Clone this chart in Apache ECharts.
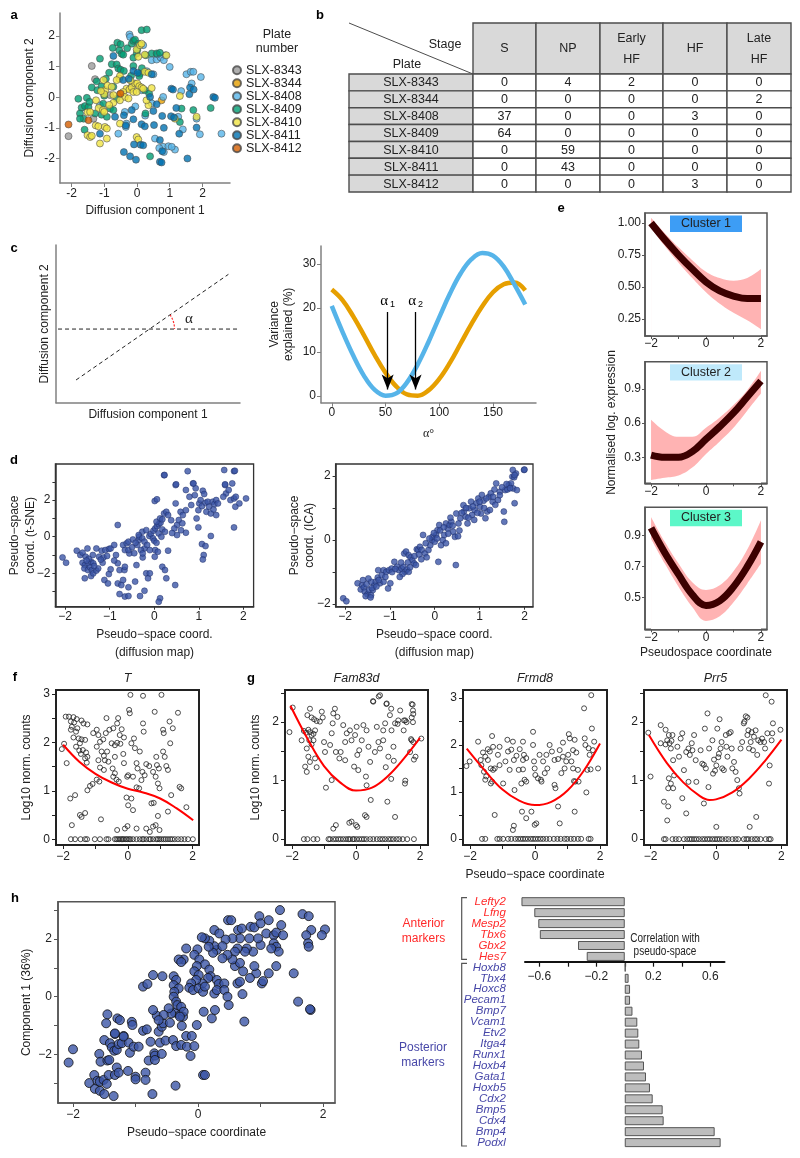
<!DOCTYPE html>
<html><head><meta charset="utf-8">
<script src="https://cdn.jsdelivr.net/npm/echarts@6/dist/echarts.min.js"></script>
<style>html,body{margin:0;padding:0;background:#fff}#c{width:800px;height:1158px}</style>
</head><body><div id="c"></div>
<script>
const FONT = '"Liberation Sans", Arial, Helvetica, sans-serif';
const SERIF = '"Liberation Serif", "Times New Roman", serif';
const minus = v => (v < 0 ? '\u2212' : '') + Math.abs(v);

// ---------------- DATA ----------------
const plateNames = ['SLX-8343','SLX-8344','SLX-8408','SLX-8409','SLX-8410','SLX-8411','SLX-8412'];
const plateColors = ['#9b9b9b','#e69f00','#56b4e9','#009e73','#f0e442','#0072b2','#d55e00'];
const dm8343 = [[-1.38,1.02],[-1.28,0.59],[-2.09,-1.27],[-1.33,-0.70],[-0.82,0.07],[-0.16,0.34]];
const dm8344 = [[-0.52,0.10],[0.75,-0.10]];
const dm8408 = [[-0.23,2.05],[-0.21,1.97],[0.19,1.70],[0.45,1.21],[0.60,1.23],[0.72,1.30],[0.82,1.21],[0.87,1.37],[1.00,0.99],[1.51,0.75],[1.64,0.83],[1.72,0.83],[1.95,0.66],[1.67,0.45],[0.50,0.75],[1.92,-1.21],[2.58,-1.19],[0.14,0.23],[-0.37,-0.48],[-0.32,-0.86],[-0.34,-0.97],[0.80,-1.62],[0.68,-1.66],[0.96,-1.60],[1.16,-1.71],[1.06,-1.62],[0.82,-1.79],[1.82,-0.70],[-0.57,-1.19],[-1.13,-0.26],[0.80,0.01],[0.45,-0.20],[1.26,-0.64],[0.62,1.40],[0.30,0.85],[-0.05,-0.30],[1.35,0.20],[0.55,-1.35],[1.40,-1.05],[0.25,-0.60]];
const dm8409 = [[0.14,2.19],[0.30,2.21],[-0.16,1.75],[-0.11,1.84],[-0.06,1.88],[-0.60,1.78],[-0.50,1.73],[-0.54,1.53],[-0.47,1.42],[-0.42,1.39],[-0.74,1.61],[-0.01,1.43],[0.01,1.54],[0.45,1.43],[0.60,1.43],[0.70,1.45],[0.27,1.37],[-0.11,1.29],[-0.77,1.08],[-0.62,1.07],[-0.57,0.94],[-0.50,0.90],[-1.13,1.26],[-0.85,0.80],[-0.11,1.02],[0.09,0.77],[0.07,0.69],[-1.38,0.32],[-1.21,0.23],[-0.72,0.34],[-1.79,-0.05],[-1.53,-0.02],[-1.69,-0.34],[-1.59,-0.29],[-1.48,-0.32],[-1.74,-0.53],[-1.63,-0.70],[-1.74,-0.70],[-1.60,-1.06],[-1.28,-0.53],[-1.03,-0.21],[-0.82,-0.37],[-1.08,-0.57],[-0.92,-0.64],[-0.72,-0.42],[0.24,0.23],[0.37,0.12],[0.26,-0.53],[0.40,-1.93],[1.31,-0.81],[2.25,-0.35],[1.72,-0.42],[1.36,-0.37],[-1.23,0.52],[-1.08,0.36],[-0.40,0.86],[-0.18,0.70],[-0.30,1.60],[0.05,1.75],[-1.45,-0.15],[-1.00,0.05],[-0.62,-0.05],[0.15,0.95],[-0.95,0.60]];
const dm8410 = [[-1.02,0.56],[-0.97,0.23],[-1.00,0.10],[-0.90,0.38],[-1.17,-0.35],[-1.04,-0.42],[-1.00,-0.48],[-1.51,-0.49],[-1.43,-0.48],[-1.26,-0.92],[-1.18,-0.95],[-0.98,-0.97],[-0.92,-1.02],[-1.51,-1.24],[-1.43,-1.30],[-1.38,-1.26],[-0.92,-1.35],[-1.13,-1.51],[-0.54,0.61],[-0.52,0.69],[-0.32,0.28],[-0.23,0.25],[-0.16,0.32],[-0.11,0.17],[-0.06,0.45],[0.01,0.45],[0.07,0.36],[0.14,0.32],[0.19,0.28],[-0.42,0.17],[-0.37,0.01],[-0.52,-0.10],[-0.72,-0.18],[-0.01,1.56],[0.09,1.70],[0.14,1.75],[0.24,1.39],[0.24,0.83],[0.35,0.80],[-0.01,0.17],[0.35,-0.26],[0.90,1.37],[-0.52,-0.86],[-0.01,-1.30],[0.04,-1.38],[1.31,0.04],[1.82,-0.64],[1.16,-0.70],[0.29,-0.10],[-0.26,-0.04],[-0.77,0.34],[-0.72,0.07],[-0.62,0.56],[0.04,1.32],[-1.10,0.20],[-0.85,-0.25],[-0.20,0.55],[0.45,0.30],[-1.25,-0.10]];
const dm8411 = [[-0.72,1.35],[-0.42,0.56],[-0.11,0.86],[0.02,0.80],[0.45,0.75],[-0.16,-0.42],[-0.40,-0.59],[-0.34,-0.92],[-0.11,-0.72],[0.14,-0.88],[0.24,-0.95],[0.52,-0.91],[0.60,-0.23],[0.77,-0.61],[0.82,-1.00],[1.04,-0.62],[1.13,-0.66],[1.05,0.28],[1.10,0.25],[1.60,0.10],[1.62,0.32],[1.73,0.25],[2.33,0.01],[2.38,-0.02],[1.82,-0.99],[1.29,-1.19],[1.54,-2.00],[0.70,-1.40],[0.77,-1.76],[0.70,-2.11],[0.75,-2.13],[-0.21,-1.93],[-0.03,-2.04],[-0.40,-1.79],[-0.09,-1.54],[0.11,-1.55],[0.19,-1.57],[-1.13,-1.19],[-0.67,-0.64],[0.40,0.01],[0.50,-0.45],[-0.25,0.60],[1.20,-0.35]];
const dm8412 = [[-2.09,-0.89],[-1.48,-0.75],[-0.50,0.12]];
const plateData = [dm8343, dm8344, dm8408, dm8409, dm8410, dm8411, dm8412];

const stageNames = ['S','NP','Early\nHF','HF','Late\nHF'];
const tableCounts = [[0,4,2,0,0],[0,0,0,0,2],[37,0,0,3,0],[64,0,0,0,0],[0,59,0,0,0],[0,43,0,0,0],[0,0,0,3,0]];

const alphaDeg = [0,10,20,30,40,50,60,70,80,90,100,110,120,130,140,150,160,170,180];
const varBlue = [20.5,14.6,9.2,4.6,1.4,0.1,0.6,3.1,7.2,12.3,17.9,23.3,27.9,31.1,32.5,31.9,29.4,25.3,20.8];
const varOrange = [24.2,21.8,18.1,13.8,9.3,5.3,2.2,0.4,0.1,1.3,3.9,7.6,12.0,16.4,20.4,23.6,25.4,25.8,24.0];
const alphaMarks = [52, 78];
const cDiag = [[0.109,0.144],[0.937,0.814]];
const cHoriz = [[0.011,0.467],[1.0,0.467]];

const dLeft = [[-2.06,-1.13],[-1.98,-1.42],[-1.74,-0.76],[-1.66,-1.0],[-1.61,-0.87],[-1.54,-1.09],[-1.5,-0.64],[-1.61,-1.42],[-1.56,-1.55],[-1.48,-1.45],[-1.42,-1.36],[-1.37,-1.45],[-1.57,-1.73],[-1.49,-1.82],[-1.44,-1.67],[-1.4,-1.82],[-1.56,-2.27],[-1.42,-2.15],[-1.37,-2.0],[-1.3,-1.85],[-1.26,-1.73],[-1.38,-1.0],[-1.3,-0.64],[-1.24,-1.09],[-1.18,-0.76],[-1.1,-0.73],[-1.02,-0.67],[-0.98,-0.64],[-1.14,-1.13],[-1.06,-1.05],[-1.12,-2.36],[-1.04,-2.55],[-1.02,-2.04],[-0.98,-1.78],[-1.16,-1.42],[-0.9,-0.45],[-0.82,0.64],[-0.86,-1.0],[-0.82,-1.45],[-0.78,-1.82],[-0.82,-2.55],[-0.74,-2.64],[-0.7,-2.36],[-0.67,-1.82],[-0.78,-3.13],[-0.66,-3.27],[-0.58,-3.24],[-0.7,-0.45],[-0.66,-0.73],[-0.62,-0.36],[-0.56,-0.91],[-0.66,-1.64],[-0.58,-2.76],[-0.58,-0.73],[-0.5,-0.58],[-0.4,-1.55],[-0.43,-2.45],[-0.32,-3.24],[-0.26,-1.13],[-0.22,-0.64],[-0.22,-2.95],[-0.18,-2.0],[-0.35,-0.18],[-0.34,0],[-0.27,0.27],[-0.38,-0.45],[-0.3,-0.73],[-0.26,-0.91],[-0.14,-2.27],[-0.1,-2.0],[-0.11,0.04],[-0.08,0.15],[-0.03,-0.09],[0,-0.22],[0.05,-0.33],[0.02,-0.73],[0.08,-0.82],[-0.02,0.33],[0.02,0.45],[0.06,0.58],[0.1,0.69],[0.14,0.76],[0.05,0.82],[0.13,1.0],[0.18,0.95],[0.01,1.95],[0.06,2.04],[0.22,1.27],[0.27,1.36],[0.31,1.18],[0.1,0.18],[0.16,0],[0.18,0.4],[0.24,0.27],[0.22,3.36],[0.18,-1.64],[0.24,-1.82],[0.27,-2.27],[0.31,-0.76],[0.13,-3.36],[0.1,-3.55],[0.47,-2.64],[0.48,1.82],[0.48,2.82],[0.51,0.64],[0.51,0.09],[0.55,0.91],[0.59,1.36],[0.63,0.73],[0.64,1.18],[0.71,0.22],[0.71,1.45],[0.75,3.58],[0.71,2.55],[0.79,2.18],[0.83,1.73],[0.87,2.91],[0.91,2.27],[0.93,2.64],[0.95,1.0],[0.99,1.45],[0.99,0.51],[1.01,1.82],[1.04,2.0],[1.07,1.67],[1.09,2.51],[1.12,2.33],[1.15,1.85],[1.17,1.36],[1.2,1.91],[1.23,1.64],[1.27,1.27],[1.31,1.91],[1.33,1.49],[1.35,1.78],[1.39,2.0],[1.43,1.82],[1.39,1.18],[1.07,-0.4],[1.15,-0.51],[1.11,-1.0],[1.09,-1.24],[1.27,0.04],[1.57,3.64],[1.59,2.82],[1.61,2.36],[1.67,2.55],[1.71,2.0],[1.75,2.91],[1.79,3.58],[1.79,2.09],[1.82,1.64],[1.83,2.18],[1.91,1.82],[2.06,2.09],[1.79,0.51],[1.55,2.18],[-0.58,-0.27],[-0.48,-0.15],[-0.42,-0.33],[-0.35,0.09],[-0.27,-0.09],[-0.22,-0.27],[-0.18,0.36],[-0.16,-0.45],[-0.1,-0.73],[0.01,-1.09],[0.23,3.37],[0.49,2.86],[0.88,2.91],[1.59,2.86],[1.81,3.6],[0.45,0.45],[0.38,0.9],[0.6,0.35],[0.4,0.2],[-0.45,-0.9],[-0.9,-1.3],[-1.2,-1.25],[-1.47,-1.2],[-1.52,-1.3],[-1.35,-1.6]];
const dRight = [[-2.04,-1.82],[-1.97,-1.91],[-1.72,-1.35],[-1.62,-1.41],[-1.65,-1.54],[-1.58,-1.48],[-1.56,-1.61],[-1.5,-1.69],[-1.54,-1.75],[-1.46,-1.56],[-1.42,-1.72],[-1.43,-1.79],[-1.38,-1.56],[-1.35,-1.41],[-1.32,-1.3],[-1.42,-1.3],[-1.48,-1.2],[-1.27,-1.17],[-1.22,-1.35],[-1.14,-1.3],[-1.26,-0.94],[-1.14,-0.94],[-1.08,-0.99],[-1.02,-0.94],[-0.96,-0.89],[-1.04,-1.51],[-0.99,-1.35],[-0.9,-0.68],[-0.84,-0.83],[-0.8,-0.94],[-0.74,-0.89],[-0.7,-0.83],[-0.66,-0.99],[-0.62,-0.92],[-0.58,-0.99],[-0.72,-1.06],[-0.78,-1.15],[-0.68,-0.42],[-0.64,-0.36],[-0.58,-0.47],[-0.54,-0.54],[-0.5,-0.63],[-0.46,-0.73],[-0.42,-0.78],[-0.4,-0.29],[-0.37,-0.31],[-0.33,-0.21],[-0.29,-0.31],[-0.26,0.16],[-0.22,-0.42],[-0.18,-0.54],[-0.14,-0.31],[-0.1,-0.16],[-0.06,0],[-0.05,0.1],[0,-0.05],[0.03,0.16],[0.06,0.31],[0.1,0.47],[0.14,-0.16],[0.18,0],[0.08,-0.68],[0.21,0.16],[0.25,0.52],[0.29,0.36],[0.33,0.47],[0.37,0.57],[0.41,0.26],[0.45,0.1],[0.48,0.83],[0.52,0.12],[0.47,-0.78],[0.53,0.52],[0.57,0.68],[0.65,0.89],[0.64,1.09],[0.69,0.73],[0.73,0.52],[0.77,0.99],[0.81,1.2],[0.83,0.78],[0.88,0.63],[0.89,0.94],[0.93,1.15],[0.97,1.3],[1.01,1.04],[1.03,0.83],[1.05,1.41],[1.09,1.23],[1.13,0.68],[1.17,0.89],[1.21,1.35],[1.25,1.46],[1.29,1.2],[1.33,1.58],[1.23,0.94],[1.37,1.77],[1.41,1.25],[1.45,1.51],[1.54,0.89],[1.57,1.56],[1.62,1.58],[1.55,0.57],[1.65,1.72],[1.7,1.77],[1.73,1.98],[1.77,1.96],[1.75,1.61],[1.78,1.15],[1.81,2.08],[1.83,1.56],[1.99,2.19],[1.74,2.19],[1.78,2.03],[2.0,2.2],[-1.6,-1.25],[-1.52,-1.38],[-1.4,-1.5],[-1.3,-1.45],[-1.18,-1.1],[-1.1,-1.15],[-0.95,-1.0],[-0.88,-0.9],[-0.6,-0.7],[-0.55,-0.85],[-0.45,-0.5],[-0.35,-0.45],[-0.3,-0.6],[-0.2,-0.1],[-0.12,0.05],[-0.02,0.22],[0.05,0.05],[0.12,0.3],[0.2,0.4],[0.3,0.2],[0.35,0.7],[0.4,0.45],[0.55,0.3],[0.6,0.85],[0.7,1.0],[0.75,0.7],[0.85,1.05],[0.95,0.85],[1.0,1.2],[1.1,1.0],[1.15,1.3],[1.3,1.35],[1.35,1.1],[1.45,1.4],[1.5,1.65],[1.6,1.75],[1.68,1.62],[0.25,-0.1],[-0.75,-0.7],[-1.25,-1.25]];

const psX = [-2,-1.5,-1,-0.5,0,0.5,1,1.5,2];
const c1Mean = [1.00,0.87,0.75,0.64,0.54,0.47,0.43,0.41,0.41];
const c1Hi = [1.04,0.92,0.81,0.71,0.62,0.57,0.55,0.57,0.64];
const c1Lo = [0.96,0.82,0.69,0.57,0.46,0.37,0.30,0.24,0.17];
const c2Mean = [0.32,0.30,0.30,0.35,0.46,0.57,0.69,0.83,0.97];
const c2Hi = [0.63,0.53,0.48,0.48,0.56,0.65,0.76,0.89,1.06];
const c2Lo = [0.10,0.12,0.14,0.21,0.33,0.44,0.56,0.71,0.86];
const c3Mean = [0.95,0.79,0.65,0.52,0.45,0.48,0.57,0.70,0.86];
const c3Hi = [1.02,0.86,0.72,0.60,0.55,0.58,0.67,0.81,1.00];
const c3Lo = [0.88,0.72,0.57,0.44,0.35,0.38,0.47,0.59,0.72];

const fT = [[-2.04,1.86],[-1.97,1.97],[-1.92,2.53],[-1.82,2.53],[-1.68,2.52],[-1.58,2.48],[-1.76,2.43],[-1.66,2.41],[-1.43,2.45],[-1.37,2.39],[-1.25,2.37],[-1.73,2.32],[-1.56,2.29],[-1.76,2.26],[-1.6,2.22],[-1.68,2.1],[-1.52,2.08],[-1.43,2.06],[-1.32,2.05],[-1.48,1.98],[-1.6,1.91],[-1.5,1.83],[-1.39,1.84],[-1.45,1.76],[-1.29,1.79],[-1.32,1.67],[-1.27,1.58],[-1.25,1.7],[-1.89,1.57],[-1.78,0.84],[-1.63,0.91],[-1.48,0.5],[-1.43,0.46],[-1.32,0.54],[-1.73,0.29],[-1.25,1.01],[-1.17,1.1],[-1.09,1.14],[-1.07,2.19],[-0.96,2.26],[-0.91,2.15],[-0.86,2.01],[-0.76,2.06],[-0.68,2.19],[-0.66,2.5],[-0.57,2.26],[-0.96,1.91],[-0.81,1.81],[-0.74,1.72],[-0.64,1.81],[-0.71,1.63],[-0.6,1.6],[-0.86,1.48],[-0.74,1.43],[-0.91,1.63],[-0.96,1.23],[-0.88,1.19],[-0.83,0.41],[-0.5,1.98],[-0.4,1.94],[-0.33,1.99],[-0.23,1.97],[-0.45,2.29],[-0.33,2.39],[-0.3,2.5],[-0.19,2.27],[-0.25,2.15],[-0.12,2.1],[-0.4,1.7],[-0.47,1.46],[-0.4,1.36],[-0.45,1.29],[-0.35,1.23],[-0.28,1.19],[-0.33,0.19],[-0.09,0.22],[-0.01,0.27],[-0.14,1.76],[-0.12,1.57],[0.08,2.98],[0.04,2.67],[0.06,2.6],[0.11,1.98],[0.22,1.88],[0.19,2.08],[0.27,1.57],[0.3,1.46],[0.16,1.29],[-0.02,1.29],[0.01,1.32],[0.27,1.07],[0.35,1.05],[0.11,0.84],[0.01,0.7],[-0.04,0.86],[0.16,0.6],[0.47,2.96],[0.47,2.39],[0.49,2.22],[0.37,1.81],[0.45,1.39],[0.52,1.32],[0.42,1.22],[0.57,1.55],[0.66,1.51],[0.83,2.63],[0.88,1.7],[0.78,1.39],[0.86,1.29],[0.9,1.53],[0.96,1.46],[0.93,1.15],[0.98,1.05],[1.09,1.81],[1.14,1.7],[1.09,2.26],[1.11,2.19],[1.04,2.98],[1.19,1.51],[1.24,1.43],[1.31,1.98],[1.29,2.43],[1.39,2.29],[1.55,2.61],[1.6,1.08],[1.65,1.05],[1.81,0.66],[1.34,0.91],[0.73,0.74],[0.8,0.75],[0.93,0.48],[0.78,0.26],[0.86,0.29],[0.68,0.15],[0.57,0.22],[1.24,0.57],[0.98,0.19],[0.27,0.22]];
const fTZeroX = [-1.76,-1.63,-1.46,-1.32,-1.26,-1.02,-0.86,-0.66,-0.6,-0.4,-0.35,-0.3,-0.25,-0.2,-0.16,-0.12,-0.06,-0.02,0.04,0.08,0.16,0.27,0.37,0.45,0.49,0.57,0.66,0.7,0.78,0.88,0.93,0.98,1.04,1.11,1.17,1.24,1.31,1.37,1.45,1.55,1.65,1.75,1.86,2.01];
const fTFit = [[-2,1.95],[-1.5,1.6],[-1,1.35],[-0.5,1.17],[0,1.04],[0.5,0.96],[1,0.84],[1.5,0.64],[2.02,0.39]];

const gFam = [[-2.08,1.83],[-1.98,2.25],[-1.7,1.69],[-1.63,1.85],[-1.56,1.82],[-1.49,1.87],[-1.44,1.83],[-1.39,1.78],[-1.46,1.69],[-1.39,1.62],[-1.33,1.69],[-1.33,1.8],[-1.28,1.86],[-1.52,2.12],[-1.44,2.23],[-1.39,2.08],[-1.31,2.05],[-1.23,2.02],[-1.54,1.55],[-1.49,1.41],[-1.59,1.24],[-1.54,1.15],[-1.44,1.32],[-1.28,1.38],[-1.23,1.23],[-1.13,2.01],[-1.07,2.18],[-1.04,2.08],[-1.0,1.66],[-0.97,1.49],[-0.94,0.88],[-0.76,1.01],[-0.81,1.61],[-0.76,1.81],[-0.73,1.98],[-0.71,2.15],[-0.66,2.23],[-0.58,2.09],[-0.63,1.49],[-0.52,1.38],[-0.48,1.49],[-0.34,1.35],[-0.34,1.66],[-0.29,1.81],[-0.4,1.95],[-0.19,1.86],[-0.14,1.69],[-0.03,1.78],[0.02,1.92],[-0.06,1.24],[0.07,1.18],[0.04,1.44],[0.1,1.52],[0.18,1.69],[0.23,1.95],[0.33,1.86],[0.39,1.58],[0.44,1.32],[0.31,1.07],[0.33,0.92],[0.28,0.41],[0.33,0.38],[0.46,0.67],[0.54,2.35],[0.75,2.46],[0.96,2.32],[0.85,1.69],[1.01,1.41],[1.06,2.12],[1.11,1.86],[1.17,1.58],[1.22,1.98],[1.32,2.03],[0.98,0.64],[1.22,0.38],[0.65,1.92],[0.7,1.66],[0.59,1.49],[0.75,1.55],[0.85,1.86],[0.91,1.98],[-0.71,0.18],[-0.63,0.24],[-0.21,0.28],[-0.14,0.3],[0,0.24],[0.04,0.21],[0.53,2.36],[0.71,2.44],[0.95,2.31],[1.1,2.23],[1.38,2.2],[1.74,2.31],[1.78,2.2],[2.04,1.72],[1.3,1.97],[1.49,1.86],[1.54,2.03],[1.78,2.0],[1.72,1.71],[1.86,1.41],[1.54,1.0],[1.18,1.34],[1.1,1.03],[0.93,1.23],[1.77,2.3],[1.79,2.14],[1.74,2.08],[1.5,2.03],[1.58,2.0],[1.79,1.66],[1.74,1.69],[1.69,1.49],[1.81,1.36],[1.53,0.95]];
const gFamZeroX = [-1.63,-1.52,-1.33,-1.21,-0.86,-0.81,-0.71,-0.63,-0.55,-0.48,-0.4,-0.31,-0.24,-0.19,-0.1,-0.06,0.02,0.1,0.18,0.25,0.33,0.44,0.54,0.65,0.75,0.83,0.91,1.01,1.09,1.17,1.27,1.35,1.46,1.6,1.81];
const gFamFit = [[-2.05,2.28],[-1.5,1.7],[-1,1.25],[-0.5,0.97],[0,0.83],[0.5,0.88],[1,1.08],[1.5,1.38],[2,1.73]];

const gFrm = [[-2.11,1.55],[-2.01,1.65],[-1.75,2.07],[-1.67,1.68],[-1.6,1.84],[-1.53,1.75],[-1.65,1.57],[-1.57,1.43],[-1.53,1.26],[-1.5,1.33],[-1.45,1.91],[-1.39,1.86],[-1.45,1.68],[-1.36,1.5],[-1.32,2.19],[-1.29,1.96],[-1.29,1.47],[-1.24,1.5],[-1.32,1.22],[-1.36,1.18],[-1.24,0.51],[-1.14,1.79],[-1.09,1.57],[-1.09,1.96],[-0.98,1.18],[-0.91,1.65],[-0.85,2.11],[-0.83,1.86],[-0.78,1.47],[-0.73,1.9],[-0.68,2.07],[-0.65,1.68],[-0.63,1.04],[-0.68,0.19],[-0.65,0.28],[-0.57,1.77],[-0.5,1.47],[-0.47,1.91],[-0.37,2.07],[-0.34,1.79],[-0.37,1.68],[-0.27,1.72],[-0.37,1.48],[-0.42,1.18],[-0.32,1.26],[-0.27,1.22],[-0.4,0.58],[-0.27,0.44],[-0.11,0.58],[-0.06,2.28],[-0.06,2.0],[-0.03,1.65],[-0.01,1.5],[0.01,1.36],[-0.01,0.3],[0.04,0.33],[0.09,1.29],[0.14,1.79],[0.18,1.26],[0.2,1.22],[0.25,1.65],[0.35,1.79],[0.3,1.4],[0.38,1.5],[0.45,2.0],[0.52,1.86],[0.6,1.68],[0.6,1.15],[0.63,1.08],[0.71,1.7],[0.76,1.89],[0.81,1.4],[0.71,0.69],[0.76,0.33],[0.86,2.05],[0.86,1.75],[0.91,1.5],[0.96,1.65],[1.02,1.79],[1.04,2.23],[1.07,2.14],[1.12,1.65],[1.17,1.89],[1.17,1.5],[1.22,2.11],[1.27,1.84],[1.2,1.23],[1.24,1.22],[1.32,1.47],[1.22,0.58],[1.34,1.22],[1.51,2.78],[1.53,2.14],[1.55,2.0],[1.61,1.47],[1.65,1.93],[1.68,1.79],[1.71,1.48],[1.73,3.06],[1.75,2.35],[1.78,1.89],[1.82,2.07],[1.94,1.5],[1.58,0.99]];
const gFrmZeroX = [-1.63,-1.53,-1.16,-1.09,-0.98,-0.83,-0.73,-0.61,-0.52,-0.44,-0.37,-0.3,-0.22,-0.13,-0.06,0.01,0.09,0.17,0.25,0.35,0.45,0.58,0.69,0.79,0.91,0.99,1.1,1.2,1.32,1.42,1.65,1.71];
const gFrmFit = [[-2.1,1.92],[-1.5,1.42],[-1,1.05],[-0.5,0.82],[0,0.72],[0.5,0.79],[1,1.03],[1.5,1.45],[2,2.03]];

const gPrr = [[-2.07,1.82],[-2.0,1.07],[-1.69,1.64],[-1.69,1.95],[-1.54,1.62],[-1.54,1.87],[-1.44,1.78],[-1.49,1.69],[-1.42,1.64],[-1.38,1.55],[-1.33,1.78],[-1.36,1.68],[-1.31,1.35],[-1.28,1.09],[-1.44,1.04],[-1.38,0.95],[-1.46,0.87],[-1.31,0.87],[-1.59,0.64],[-1.46,0.56],[-1.49,0.32],[-1.18,1.58],[-1.13,1.41],[-1.08,1.72],[-1.03,1.81],[-0.98,1.18],[-0.91,1.49],[-0.84,1.55],[-0.8,1.44],[-0.84,0.98],[-1.03,0.7],[-0.91,0.44],[-0.74,1.64],[-0.72,1.52],[-0.67,1.78],[-0.62,1.35],[-0.6,0.98],[-0.47,1.52],[-0.42,1.29],[-0.37,1.27],[-0.34,1.89],[-0.26,2.15],[-0.21,1.55],[-0.23,0.89],[-0.37,0.61],[-0.31,1.21],[-0.11,1.69],[-0.06,1.36],[-0.09,1.12],[-0.03,1.17],[0.01,1.26],[0.04,1.89],[0.07,1.4],[0.09,1.46],[0.11,2.05],[0.01,0.21],[0.14,1.55],[0.17,1.66],[0.19,1.21],[0.24,1.18],[0.3,1.78],[0.32,1.58],[0.35,1.41],[0.4,1.81],[0.45,1.83],[0.48,1.55],[0.5,1.21],[0.55,1.32],[0.6,1.15],[0.65,1.01],[0.7,0.87],[0.72,0.78],[0.75,1.55],[0.8,1.66],[0.85,1.98],[0.87,2.01],[0.91,2.1],[0.96,2.08],[0.99,1.86],[0.96,1.78],[1.01,1.55],[1.06,1.66],[1.03,0.21],[1.09,1.83],[1.13,1.52],[1.16,1.75],[1.21,1.86],[1.23,0.38],[1.26,1.44],[1.29,1.69],[1.36,1.66],[1.41,1.72],[1.47,1.66],[1.52,2.46],[1.5,1.55],[1.57,1.81],[1.62,0.95],[1.64,1.26],[1.7,2.35],[1.72,1.81],[1.7,1.69],[1.74,1.98],[1.97,1.87]];
const gPrrZeroX = [-1.59,-1.54,-1.33,-1.23,-1.13,-0.98,-0.88,-0.8,-0.74,-0.67,-0.6,-0.52,-0.42,-0.34,-0.26,-0.19,-0.11,-0.03,0.04,0.11,0.19,0.3,0.38,0.5,0.6,0.68,0.85,0.93,0.99,1.09,1.19,1.26,1.36,1.52,1.62,1.67];
const gPrrFit = [[-2.05,1.78],[-1.5,1.3],[-1,0.97],[-0.5,0.74],[-0.2,0.67],[0,0.68],[0.5,0.8],[1,1.03],[1.5,1.34],[2,1.7]];

const hPoints = [[-2.07,-2.28],[-2.0,-1.82],[-1.74,-2.99],[-1.66,-2.71],[-1.65,-3.19],[-1.61,-2.91],[-1.57,-3.26],[-1.5,-3.37],[-1.57,-2.94],[-1.51,-2.88],[-1.46,-3.02],[-1.43,-2.71],[-1.35,-3.44],[-1.33,-2.71],[-1.3,-2.45],[-1.27,-2.63],[-1.58,-1.98],[-1.56,-2.25],[-1.45,-2.21],[-1.42,-2.19],[-1.5,-1.5],[-1.41,-1.61],[-1.38,-1.75],[-1.34,-1.87],[-1.3,-1.84],[-1.33,-1.29],[-1.27,-1.64],[-1.22,-1.61],[-1.19,-1.36],[-1.11,-1.59],[-1.09,-1.94],[-1.03,-1.73],[-0.95,-1.73],[-1.12,-2.57],[-1.0,-2.77],[-1.0,-2.86],[-0.84,-2.63],[-0.84,-2.88],[-0.73,-3.37],[-0.88,-1.18],[-0.82,-1.13],[-0.76,-1.56],[-0.79,-2.21],[-0.7,-1.96],[-0.69,-2.04],[-0.69,-2.19],[-0.61,-1.59],[-0.63,-1.21],[-0.58,-1.04],[-0.56,-0.92],[-0.58,-1.98],[-0.52,-1.52],[-0.45,-0.9],[-0.4,-1.5],[-0.36,-3.08],[-0.35,-1.71],[-0.27,-1.67],[-0.26,-1.01],[-0.19,-1.36],[-0.18,-1.73],[-0.12,-2.05],[-0.1,-1.36],[-0.06,-1.71],[-0.02,-0.98],[0.08,-2.71],[0.11,-2.71],[0.22,-0.75],[0.74,-0.86],[1.8,-0.46],[-0.66,-0.66],[-1.45,-0.61],[-1.47,-0.92],[-1.29,-0.75],[-1.25,-0.81],[-1.06,-0.87],[-1.05,-0.98],[-0.37,-0.55],[-0.29,-0.63],[-0.24,-0.69],[0.09,-0.52],[0.27,-0.46],[1.31,3.0],[1.67,2.86],[1.77,2.79],[2.03,2.33],[1.81,2.31],[1.73,2.13],[1.76,1.85],[1.77,1.73],[1.6,-0.17],[1.79,-0.43],[1.53,0.81],[0.26,2.31],[0.48,2.65],[0.53,2.65],[0.64,2.31],[0.7,2.36],[0.84,2.42],[0.9,2.4],[0.98,2.79],[1.0,2.54],[1.09,2.19],[1.13,2.65],[1.21,2.13],[1.25,2.22],[1.33,2.48],[1.36,2.13],[1.21,1.85],[1.25,1.73],[1.29,1.56],[1.17,1.67],[1.0,1.79],[0.96,2.02],[0.88,1.56],[0.82,2.02],[0.78,1.67],[0.75,1.56],[0.67,2.02],[0.63,1.67],[0.59,1.56],[0.55,2.02],[0.44,1.98],[0.34,2.19],[0.3,1.62],[0.26,1.75],[0.24,1.52],[0.18,1.94],[0.11,2.02],[0.06,2.06],[0.17,1.73],[-0.01,1.64],[-0.19,1.67],[-0.23,1.29],[-0.31,1.29],[-0.27,1.2],[-0.06,1.45],[0.02,1.29],[0.11,1.12],[-0.02,1.06],[-0.06,0.88],[0.18,0.94],[0.2,0.71],[0.16,0.65],[0.07,0.46],[0.01,0.75],[-0.03,0.58],[-0.11,0.46],[-0.14,0.31],[-0.08,0.23],[0.01,0.29],[0.08,0.17],[0.11,0.35],[0.3,0.58],[0.33,0.44],[0.42,0.46],[0.26,0.11],[0.3,0.23],[0.42,0.23],[0.47,0],[0.49,-0.29],[0.63,0.46],[0.67,0.52],[0.71,0.09],[0.93,0.81],[1.02,0.46],[1.04,0.54],[1.13,0.81],[1.25,1.06],[0.9,1.06],[0.83,0.65],[0.59,1.06],[0.72,0.88],[0.67,1.17],[0.55,1.29],[0.47,1.45],[0.39,1.33],[0.39,1.75],[-0.39,0.71],[-0.35,0.58],[-0.39,0.4],[-0.31,0.29],[-0.38,0.17],[-0.39,0],[-0.35,-0.17],[-0.33,-0.29],[-0.27,-0.35],[-0.23,-0.52],[-0.29,-0.69],[-0.43,-0.58],[-0.47,-0.4],[-0.55,-0.63],[-0.63,-0.81],[-0.72,-0.46],[-0.72,0.75],[-0.57,0.71],[-0.88,0.35],[-0.81,0.44],[-1.33,-1.27],[-1.19,-1.38],[1.98,2.13]];

const geneNames = ['Lefty2','Lfng','Mesp2','Tbx6','Gbx2','Hes7','Hoxb8','Tbx4','Hoxc8','Pecam1','Bmp7','Vcam1','Etv2','Itga4','Runx1','Hoxb4','Gata1','Hoxb5','Cdx2','Bmp5','Cdx4','Bmp4','Podxl'];
const geneCorr = [-0.725,-0.635,-0.607,-0.596,-0.328,-0.267,0.006,0.027,0.037,0.037,0.054,0.088,0.095,0.102,0.121,0.135,0.149,0.177,0.196,0.266,0.273,0.631,0.673];
const nAnterior = 6;
const corrTicks = [-0.6,-0.4,-0.2,0,0.2,0.4,0.6];
const corrLabels = [-0.6,-0.2,0.2,0.6];

// ---------------- LAYOUT ----------------
const L = {
  a:{left:60, top:13, width:170, height:170},
  cL:{left:56, top:245, width:184, height:157.7},
  cR:{left:321, top:246, width:215, height:156.7},
  dL:{left:55.4, top:464, width:198.2, height:142.7},
  dR:{left:335.6, top:464, width:197.4, height:142.7},
  e1:{left:645, top:213, width:122, height:123},
  e2:{left:645, top:361.7, width:122, height:121.6},
  e3:{left:645, top:507.3, width:122, height:122},
  f:{left:56, top:690, width:143, height:155},
  g1:{left:285, top:690, width:143, height:155},
  g2:{left:463, top:690, width:144, height:155},
  g3:{left:644, top:690, width:143, height:155},
  h:{left:58, top:901.7, width:277, height:201.3},
  bar:{left:517.9, top:896.2, width:206.6, height:251.9},
  barAx:{left:525, top:941, width:199.5, height:20.7}
};

const grid = [], xAxis = [], yAxis = [], series = [], graphic = [];
function valAxis(dim, gi, a) {
  const col = a.color || '#333';
  return {
    type:'value', gridIndex:gi, min:a.min, max:a.max, position: dim === 'x' ? 'bottom' : 'left', z:a.z || 0,
    axisLine:{show:a.line !== false, onZero:false, lineStyle:{color:col, width:a.lw || 1.5}},
    axisTick:{show:!!a.ticks, customValues:a.ticks, length:a.tl || 4, lineStyle:{color:col, width:1}},
    axisLabel:{show:!!a.labels, customValues:a.labels, margin:a.margin != null ? a.margin : 5, fontSize:12, color:'#222', fontFamily:FONT, formatter:a.fmt || minus},
    splitLine:{show:false},
    name:a.name || '', nameLocation:'middle', nameGap:a.gap || 20, nameRotate: dim === 'y' ? 90 : 0, nameMoveOverlap:false,
    nameTextStyle:{fontSize:12, color:'#222', fontFamily:a.nameFont || FONT, lineHeight:a.lh || 14}
  };
}
function panel(box, x, y, border) {
  const gi = grid.length;
  grid.push(Object.assign({containLabel:false, outerBoundsMode:'none', show:!!border, borderColor:border ? border.color : '#333', borderWidth:border ? border.width : 1, backgroundColor:'transparent'}, box));
  xAxis.push(valAxis('x', gi, x)); yAxis.push(valAxis('y', gi, y));
  return gi;
}
function sc(gi, data, o) {
  series.push({type:'scatter', name:o.name, xAxisIndex:gi, yAxisIndex:gi, data, symbol:'circle', symbolSize:o.size, itemStyle:o.style, silent:true, z:o.z || 3});
}
function ln(gi, data, o) {
  const s = {type:'line', xAxisIndex:gi, yAxisIndex:gi, data, smooth:o.smooth === false ? false : 0.4, symbol:'none', lineStyle:o.style, silent:true, z:o.z || 4};
  if (o.markLine) s.markLine = o.markLine;
  series.push(s);
}
function band(gi, xs, lo, hi, mean) {
  series.push({type:'line', xAxisIndex:gi, yAxisIndex:gi, data:xs.map((x,i)=>[x, hi[i]]), symbol:'none', smooth:0.4, lineStyle:{width:0, opacity:0}, areaStyle:{color:'#ffb3b3', opacity:1, origin:'start'}, silent:true, z:2});
  series.push({type:'line', xAxisIndex:gi, yAxisIndex:gi, data:xs.map((x,i)=>[x, lo[i]]), symbol:'none', smooth:0.4, lineStyle:{width:0, opacity:0}, areaStyle:{color:'#ffffff', opacity:1, origin:'start'}, silent:true, z:2});
  series.push({type:'line', xAxisIndex:gi, yAxisIndex:gi, data:xs.map((x,i)=>[x, mean[i]]), symbol:'none', smooth:0.4, lineStyle:{color:'#3d0000', width:7, cap:'butt'}, silent:true, z:3});
}
function txt(x, y, text, o) {
  o = o || {};
  const font = (o.italic ? 'italic ' : 'normal ') + (o.bold ? 'bold ' : 'normal ') + (o.size || 12) + 'px ' + (o.family || FONT);
  const el = {type:'text', x, y, silent:true, z:10, style:{text, fill:o.color || '#222', font, align:o.align || 'center', textAlign:o.align || 'center', verticalAlign:'middle', textVerticalAlign:'middle', lineHeight:o.lh || 14}};
  if (o.scaleX) el.scaleX = o.scaleX;
  graphic.push(el);
}
function rect(x, y, w, h, fill, stroke, lw) {
  graphic.push({type:'rect', silent:true, z:9, shape:{x, y, width:w, height:h}, style:{fill, stroke:stroke || '#4d4d4d', lineWidth:lw == null ? 1.4 : lw}});
}
function poly(points, stroke, lw, dash) {
  graphic.push({type:'polyline', silent:true, z:9, shape:{points}, style:{stroke, lineWidth:lw, fill:null, lineDash:dash}});
}

// ---- a ----
const ticks5 = [-2,-1,0,1,2];
const gA = panel(L.a,
  {min:-2.35, max:2.84, ticks:ticks5, labels:ticks5, color:'#808080', fmt:v=>String(v), margin:5, name:'Diffusion component 1', gap:21},
  {min:-2.8, max:2.75, ticks:ticks5, labels:ticks5, color:'#808080', fmt:v=>String(v), margin:5, name:'Diffusion component 2', gap:23});
plateNames.forEach((p,i) => sc(gA, plateData[i], {name:p, size:7, style:{color:plateColors[i], borderColor:'#4a4a4a', borderWidth:0.7}}));

// ---- c ----
const gCL = panel(L.cL, {min:0, max:1, color:'#808080', name:'Diffusion component 1', gap:5}, {min:0, max:1, color:'#808080', name:'Diffusion component 2', gap:4});
ln(gCL, cDiag, {smooth:false, style:{color:'#222', width:1, type:[4,3]}});
ln(gCL, cHoriz, {smooth:false, style:{color:'#222', width:1, type:[4,3]}});
const gCR = panel(L.cR,
  {min:-10, max:190, ticks:[0,50,100,150], labels:[0,50,100,150], color:'#808080', margin:4, name:'\u03b1\u00b0', gap:24, nameFont:SERIF},
  {min:-1.5, max:34.1, ticks:[0,10,20,30], labels:[0,10,20,30], color:'#808080', margin:5, name:'Variance\nexplained (%)', gap:25});
ln(gCR, alphaDeg.map((a,i)=>[a, varOrange[i]]), {style:{color:'#e69f00', width:4.5}});
ln(gCR, alphaDeg.map((a,i)=>[a, varBlue[i]]), {style:{color:'#56b4e9', width:4.5}, markLine:{
  silent:true, animation:false, symbol:['none','arrow'], symbolSize:[9,15],
  lineStyle:{color:'#000', width:1.3, type:'solid'},
  label:{show:true, position:'start', distance:3, formatter:p => '{a|\u03b1}{s|' + p.name + '}',
    rich:{a:{fontFamily:SERIF, fontSize:15, color:'#000'}, s:{fontFamily:FONT, fontSize:9, color:'#000', padding:[7,0,0,2]}}},
  data: alphaMarks.map((a,i)=>[{coord:[a,19.1], name:String(i+1)}, {coord:[a,1.5]}])
}});

// ---- d ----
const dStyle = {color:'#3b55a6', borderColor:'#1e2c66', borderWidth:0.6};
const gDL = panel(L.dL,
  {min:-2.22, max:2.23, ticks:ticks5, labels:ticks5, margin:4, tl:3, color:'#333', name:'Pseudo\u2212space coord.\n(diffusion map)', gap:19, lh:18},
  {min:-3.82, max:3.97, ticks:[-3,-2,-1,0,1,2,3], labels:[-2,0,2], margin:5, tl:3, color:'#333', name:'Pseudo\u2212space\ncoord. (t-SNE)', gap:17, lh:15.5},
  {color:'#333', width:1.3});
sc(gDL, dLeft, {size:6, style:dStyle});
const gDR = panel(L.dR,
  {min:-2.21, max:2.19, ticks:ticks5, labels:ticks5, margin:4, tl:3, color:'#333', name:'Pseudo\u2212space coord.\n(diffusion map)', gap:19, lh:18},
  {min:-2.08, max:2.375, ticks:[-2,-1,0,1,2], labels:[-2,0,2], margin:5, tl:3, color:'#333', name:'Pseudo\u2212space\ncoord. (ICA)', gap:18, lh:15.5},
  {color:'#333', width:1.3});
sc(gDR, dRight, {size:6, style:dStyle});

// ---- e ----
const eX = (name, gap) => ({min:-2.22, max:2.22, ticks:ticks5, labels:[-2,0,2], margin:2, tl:3, color:'#555', name, gap, z:10});
const eB = {color:'#555', width:1.5};
const gE1 = panel(L.e1, eX(), {min:0.118, max:1.078, ticks:[0.25,0.5,0.75,1], labels:[0.25,0.5,0.75,1], fmt:v=>v.toFixed(2), margin:4, tl:3, color:'#555', z:10}, eB);
const gE2 = panel(L.e2, eX(), {min:0.072, max:1.14, ticks:[0.3,0.6,0.9], labels:[0.3,0.6,0.9], fmt:v=>v.toFixed(1), margin:4, tl:3, color:'#555', name:'Normalised log. expression', gap:26, z:10}, eB);
const gE3 = panel(L.e3, eX('Pseudospace coordinate', 16), {min:0.296, max:1.083, ticks:[0.5,0.7,0.9], labels:[0.5,0.7,0.9], fmt:v=>v.toFixed(1), margin:4, tl:3, color:'#555', z:10}, eB);
band(gE1, psX, c1Lo, c1Hi, c1Mean);
band(gE2, psX, c2Lo, c2Hi, c2Mean);
band(gE3, psX, c3Lo, c3Hi, c3Mean);

// ---- f / g ----
const fgX = (min, max, name) => ({min, max, ticks:ticks5, labels:[-2,0,2], margin:6, tl:4, color:'#222', lw:2, name, gap:23});
const fgB = {color:'#222', width:2};
const t3 = [0,0.5,1,1.5,2,2.5,3], t25 = [0,0.5,1,1.5,2,2.5];
const gF = panel(L.f, fgX(-2.22, 2.2), {min:-0.12, max:3.08, ticks:t3, labels:[0,1,2,3], margin:6, tl:4, color:'#222', lw:2, name:'Log10 norm. counts', gap:22}, fgB);
const gG1 = panel(L.g1, fgX(-2.22, 2.25), {min:-0.1, max:2.55, ticks:t25, labels:[0,1,2], margin:6, tl:4, color:'#222', lw:2, name:'Log10 norm. counts', gap:22}, fgB);
const gG2 = panel(L.g2, fgX(-2.215, 2.215, 'Pseudo\u2212space coordinate'), {min:-0.13, max:3.17, ticks:t3, labels:[0,1,2,3], margin:6, tl:4, color:'#222', lw:2}, fgB);
const gG3 = panel(L.g3, fgX(-2.2, 2.17), {min:-0.1, max:2.55, ticks:t25, labels:[0,1,2], margin:6, tl:4, color:'#222', lw:2}, fgB);
const hollow = {color:'rgba(255,255,255,0)', borderColor:'#222', borderWidth:1};
[[gF, fT, fTZeroX, fTFit], [gG1, gFam, gFamZeroX, gFamFit], [gG2, gFrm, gFrmZeroX, gFrmFit], [gG3, gPrr, gPrrZeroX, gPrrFit]].forEach(([g, pts, zx, fit]) => {
  sc(g, pts.concat(zx.map(x => [x, 0])), {size:5, style:hollow});
  ln(g, fit, {style:{color:'#ff0000', width:2}, z:5});
});

// ---- h ----
const gH = panel(L.h,
  {min:-2.24, max:2.19, ticks:ticks5, labels:[-2,0,2], margin:6, tl:4, color:'#555', name:'Pseudo\u2212space coordinate', gap:23},
  {min:-3.68, max:3.29, ticks:[-3,-2,-1,0,1,2,3], labels:[-2,0,2], margin:6, tl:4, color:'#555', name:'Component 1 (36%)', gap:24},
  {color:'#555', width:1.5});
sc(gH, hPoints, {size:9, style:{color:'#3b55a6', borderColor:'#111', borderWidth:1}});

// bars
const gB = grid.length;
grid.push(Object.assign({containLabel:false, outerBoundsMode:'none'}, L.bar));
xAxis.push({type:'value', gridIndex:gB, min:-0.75, max:0.7, show:false});
yAxis.push({type:'category', gridIndex:gB, inverse:true,
  data:geneNames.map((g,i) => ({value:g, textStyle:{color: i < nAnterior ? '#ff2a2a' : '#4747a8'}})),
  axisLine:{show:false}, axisTick:{show:false}, splitLine:{show:false},
  axisLabel:{margin:12, fontSize:11.5, fontStyle:'italic', fontFamily:FONT, interval:0}});
series.push({type:'bar', xAxisIndex:gB, yAxisIndex:gB, data:geneCorr, barWidth:9, itemStyle:{color:'#bdbdbd', borderColor:'#555', borderWidth:1}, silent:true});
const gBA = grid.length;
grid.push(Object.assign({containLabel:false, outerBoundsMode:'none'}, L.barAx));
xAxis.push({type:'value', gridIndex:gBA, min:-0.7, max:0.7, position:'bottom',
  axisLine:{show:true, onZero:false, lineStyle:{color:'#111', width:2}},
  axisTick:{show:true, customValues:corrTicks, length:5, lineStyle:{color:'#111', width:1.2}},
  axisLabel:{customValues:corrLabels, margin:9, fontSize:12, color:'#222', fontFamily:FONT, formatter:v => (v < 0 ? '\u2212' : '') + Math.abs(v).toFixed(1)},
  splitLine:{show:false}});
yAxis.push({type:'value', gridIndex:gBA, min:0, max:1, show:false});

// ---------------- GRAPHIC ----------------
[['a',14,15],['b',320,15],['c',14,248],['d',14,460],['e',561,208],['f',15,677],['g',251,678],['h',15,898]].forEach(([t,x,y]) => txt(x, y, t, {bold:true, size:13, color:'#000'}));
txt(277, 35, 'Plate', {size:12.5}); txt(277, 48.5, 'number', {size:12.5});

// table
const tblCols = [349,473,536,600,663,727,791];
const tblTop = 23, tblHeadBot = 74, tblBot = 192;
const rowH = (tblBot - tblHeadBot) / plateNames.length;
stageNames.forEach((s,j) => {
  const x0 = tblCols[j+1], x1 = tblCols[j+2];
  rect(x0, tblTop, x1 - x0, tblHeadBot - tblTop, '#d9d9d9');
  txt((x0 + x1) / 2, (tblTop + tblHeadBot) / 2 + 0.5, s, {size:12.5, lh:21});
});
plateNames.forEach((p,i) => {
  const y0 = tblHeadBot + i * rowH;
  rect(tblCols[0], y0, tblCols[1] - tblCols[0], rowH, '#d9d9d9');
  txt((tblCols[0] + tblCols[1]) / 2, y0 + rowH / 2 + 0.5, p, {size:12.5});
  tableCounts[i].forEach((v,j) => {
    const x0 = tblCols[j+1], x1 = tblCols[j+2];
    rect(x0, y0, x1 - x0, rowH, '#ffffff');
    txt((x0 + x1) / 2, y0 + rowH / 2 + 0.5, String(v), {size:12.5});
  });
});
poly([[tblCols[0], tblTop], [tblCols[1], tblHeadBot]], '#4d4d4d', 1);
txt(445, 45, 'Stage', {size:12.5}); txt(407, 65, 'Plate', {size:12.5});

// c left angle
const ix = cDiag[0][0] + (cHoriz[0][1] - cDiag[0][1]) * (cDiag[1][0] - cDiag[0][0]) / (cDiag[1][1] - cDiag[0][1]);
const cx = L.cL.left + L.cL.width * ix, cy = L.cL.top + L.cL.height * (1 - cHoriz[0][1]);
const ang = Math.atan(((cDiag[1][1] - cDiag[0][1]) * L.cL.height) / ((cDiag[1][0] - cDiag[0][0]) * L.cL.width));
graphic.push({type:'arc', silent:true, z:9, shape:{cx, cy, r:25, startAngle:-ang, endAngle:0, clockwise:true}, style:{stroke:'#ff3030', lineWidth:1.2, fill:null, lineDash:[2,1.5]}});
txt(189, 319, '\u03b1', {size:15, family:SERIF});

// e cluster labels
[['Cluster 1','#3d9df5',L.e1],['Cluster 2','#bfe9fb',L.e2],['Cluster 3','#5cf7c8',L.e3]].forEach(([t,c,b]) => {
  rect(670, b.top + 2.5, 72, 16.4, c, 'none', 0);
  txt(706, b.top + 10.7, t, {size:12.5});
});

// f/g titles
[['T',L.f],['Fam83d',L.g1],['Frmd8',L.g2],['Prr5',L.g3]].forEach(([t,b]) => txt(b.left + b.width / 2, 679, t, {italic:true, size:12.5}));

// h right decorations
poly([[467,897.7],[461.7,897.7],[461.7,959.3],[467,959.3]], '#555', 1.2);
poly([[467,963.3],[461.7,963.3],[461.7,1146],[467,1146]], '#555', 1.2);
txt(423.5, 923.3, 'Anterior', {color:'#ff2a2a'}); txt(423.5, 938.3, 'markers', {color:'#ff2a2a'});
txt(423, 1047.3, 'Posterior', {color:'#4747a8'}); txt(423, 1062.3, 'markers', {color:'#4747a8'});
txt(665, 938.3, 'Correlation with', {size:12.5, scaleX:0.8}); txt(665, 951.5, 'pseudo-space', {size:12.5, scaleX:0.8});

// ---------------- CHART ----------------
const chart = echarts.init(document.getElementById('c'), null, {renderer:'canvas'});
chart.setOption({
  animation:false,
  backgroundColor:'#ffffff',
  textStyle:{fontFamily:FONT},
  grid, xAxis, yAxis, series, graphic,
  legend:{data:plateNames, orient:'vertical', left:232, top:63.8, itemWidth:8, itemHeight:8, itemGap:0, icon:'circle', selectedMode:false, padding:0,
    textStyle:{fontSize:12.5, color:'#222', fontFamily:FONT, lineHeight:12.4}}
});
</script></body></html>
